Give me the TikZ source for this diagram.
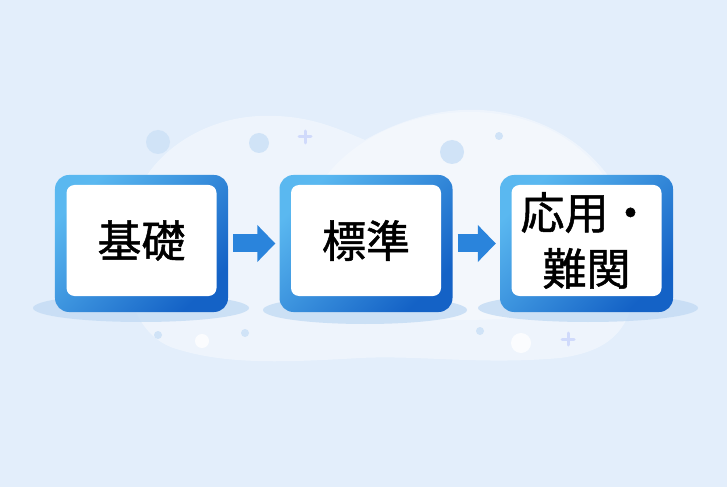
\documentclass[tikz,border=0pt]{standalone}
\usepackage{fontspec}
\newfontfamily\cjk[FakeBold=1.2]{Noto Sans CJK JP}
\usepackage{tikz}
\usetikzlibrary{arrows.meta, positioning, calc}
\definecolor{bgblue}{HTML}{E3EEFB}
\definecolor{boxlight}{HTML}{5AB8F0}
\definecolor{boxdark}{HTML}{1462C6}
\definecolor{arrowblue}{HTML}{2A84DC}
\definecolor{shadowblue}{HTML}{C3DBF4}
\definecolor{dotblue}{HTML}{D0E3F7}

\tikzset{
  outerbox/.style={rectangle,rounded corners=14bp,minimum width=173bp,minimum height=137bp,top color=boxlight,bottom color=boxdark,shading angle=45},
  innerbox/.style={rectangle,rounded corners=8bp,fill=white,minimum width=150bp,minimum height=111bp,align=center,font=\cjk\fontsize{44bp}{56bp}\selectfont},
  flowarrow/.style={line width=18bp,arrowblue,-{Triangle[length=18bp,width=36bp]},shorten <=5bp,shorten >=4bp},
  plus/.style={line width=3bp,dotblue!85!blue!60!white,line cap=round}
}

\begin{document}
\begin{tikzpicture}[x=1bp,y=-1bp]
    % Sfondo
    \fill[bgblue] (0,0) rectangle (727,487);
    \useasboundingbox (0,0) rectangle (727,487);

    % Nuvola
    \fill[white,opacity=0.4] (125,250) .. controls (125,160) and (200,118) .. (260,116)
        .. controls (310,114) and (340,130) .. (365,140)
        .. controls (400,120) and (440,108) .. (480,110)
        .. controls (560,114) and (630,170) .. (635,250)
        .. controls (640,320) and (620,350) .. (560,358)
        .. controls (480,365) and (420,355) .. (360,358)
        .. controls (290,362) and (230,365) .. (180,350)
        .. controls (140,340) and (125,300) .. (125,250) -- cycle;
    \fill[white,opacity=0.3] (300,250) .. controls (300,170) and (380,112) .. (470,112)
        .. controls (560,112) and (625,170) .. (628,250)
        .. controls (630,300) and (560,320) .. (460,320)
        .. controls (360,320) and (300,300) .. (300,250) -- cycle;

    % Ombre
    \fill[shadowblue,opacity=0.8] (141,308) ellipse (108 and 14);
    \fill[shadowblue,opacity=0.8] (365,310) ellipse (102 and 14);
    \fill[shadowblue,opacity=0.8] (588,308) ellipse (110 and 14);

    % Decorazioni
    \fill[dotblue] (158,142) circle (12);
    \fill[dotblue] (259,143) circle (10);
    \fill[dotblue] (452,152) circle (12);
    \fill[dotblue] (499,136) circle (4);
    \fill[dotblue] (158,335) circle (4);
    \fill[white,opacity=0.8] (202,341) circle (7);
    \fill[dotblue] (245,333) circle (4);
    \fill[dotblue] (480,331) circle (4);
    \fill[white,opacity=0.8] (521,343) circle (10);
    \draw[plus] (299,137) -- (311,137) (305,131) -- (305,143);
    \draw[plus] (562,339) -- (574,339) (568,333) -- (568,345);

    % Box
    \node[outerbox] (base) at (141.5,243.5) {};
    \node[innerbox] (baseText) at ($(base.center)+(0,-3)$) {基礎};

    \node[outerbox] (standard) at (366,243.5) {};
    \node[innerbox] (standardText) at ($(standard.center)+(0,-3)$) {標準};

    \node[outerbox] (advanced) at (586.5,243.5) {};
    \node[innerbox] (advancedText) at ($(advanced.center)+(0,-3)$) {応用・\\難関};

    % Frecce
    \draw[flowarrow] (base) -- (standard);
    \draw[flowarrow] (standard) -- (advanced);
\end{tikzpicture}
\end{document}
